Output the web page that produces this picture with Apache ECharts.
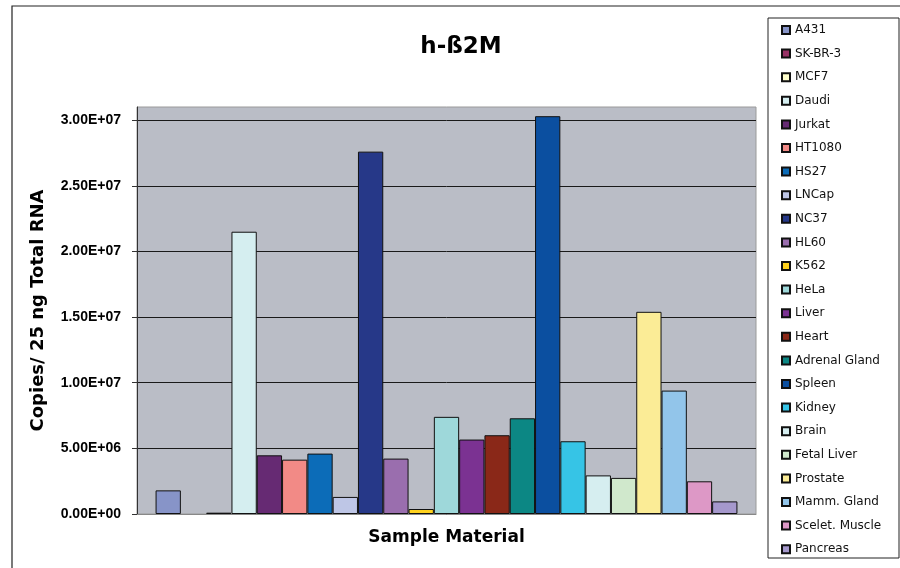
<!DOCTYPE html>
<html>
<head>
<meta charset="utf-8">
<title>h-ß2M</title>
<script src="https://cdn.jsdelivr.net/npm/echarts@6/dist/echarts.min.js"></script>
<style>
  html, body { margin: 0; padding: 0; background: #ffffff; }
  #chart { width: 900px; height: 568px; }
</style>
</head>
<body>
<div id="chart"></div>
<script>
// Sample materials (one bar each, all in a single category)
const sampleNames = [
  'A431', 'SK-BR-3', 'MCF7', 'Daudi', 'Jurkat', 'HT1080', 'HS27', 'LNCap',
  'NC37', 'HL60', 'K562', 'HeLa', 'Liver', 'Heart', 'Adrenal Gland', 'Spleen',
  'Kidney', 'Brain', 'Fetal Liver', 'Prostate', 'Mamm. Gland', 'Scelet. Muscle', 'Pancreas'
];

// Copies per 25 ng total RNA
const copyNumbers = [
  1.8e6, null, 1.0e5, 2.15e7, 4.47e6, 4.14e6, 4.6e6, 1.3e6,
  2.76e7, 4.22e6, 3.8e5, 7.4e6, 5.67e6, 6.0e6, 7.29e6, 3.03e7,
  5.54e6, 2.94e6, 2.75e6, 1.54e7, 9.4e6, 2.49e6, 9.6e5
];

// Value-axis tick positions
const yTickValues = [0, 5e6, 1e7, 1.5e7, 2e7, 2.5e7, 3e7];

const palette = [
  '#8794c8', '#993366', '#ffffcc', '#d5eef0', '#662a73', '#f28a86', '#0c6cb8', '#bec6e6',
  '#263888', '#9a6eae', '#ffd21e', '#9ed8da', '#7b3292', '#8a2818', '#0c8784', '#0b4fa0',
  '#36c4e6', '#d6eef0', '#d0e8cc', '#fbec96', '#92c5ea', '#dd98c6', '#a598cc'
];

// Format as 3.00E+07 style
function sciLabel(v) {
  if (v === 0) return '0.00E+00';
  const e = Math.floor(Math.log10(v) + 1e-9);
  const m = v / Math.pow(10, e);
  return m.toFixed(2) + 'E+' + String(e).padStart(2, '0');
}

const chart = echarts.init(document.getElementById('chart'), null, { renderer: 'canvas' });

const series = sampleNames.map((name, i) => ({
  name: name,
  type: 'bar',
  data: [copyNumbers[i]],
  barGap: '0%',
  barCategoryGap: '6%',
  itemStyle: { color: palette[i], borderColor: '#111111', borderWidth: 1 },
  emphasis: { disabled: true }
}));

chart.setOption({
  animation: false,
  backgroundColor: '#ffffff',
  title: {
    text: 'h-ß2M',
    left: 461,
    top: 36,
    padding: 0,
    textAlign: 'center',
    textStyle: { fontFamily: 'DejaVu Sans', fontWeight: 'bold', fontSize: 23, color: '#000000' }
  },
  graphic: [
    {
      type: 'rect',
      shape: { x: 12, y: 6, width: 1000, height: 1000 },
      style: { fill: 'none', stroke: '#222222', lineWidth: 1.2 },
      silent: true
    },
    {
      type: 'rect',
      shape: { x: 768, y: 18, width: 131, height: 540 },
      style: { fill: '#ffffff', stroke: '#222222', lineWidth: 1 },
      silent: true,
      z: 0
    }
  ],
  legend: {
    data: sampleNames,
    orient: 'vertical',
    left: 768,
    top: 18,
    padding: [6, 0, 0, 13],
    itemWidth: 8,
    itemHeight: 8,
    itemGap: 11.6,
    icon: 'rect',
    selectedMode: false,
    z: 5,
    textStyle: { fontFamily: 'DejaVu Sans', fontSize: 12, color: '#111111' }
  },
  grid: {
    left: 137,
    right: 144,
    top: 107,
    bottom: 54,
    show: true,
    backgroundColor: '#babdc6',
    borderColor: '#9a9a9a',
    borderWidth: 1
  },
  xAxis: {
    type: 'category',
    data: [''],
    name: 'Sample Material',
    nameLocation: 'middle',
    nameGap: 15,
    nameTextStyle: { fontFamily: 'DejaVu Sans', fontWeight: 'bold', fontSize: 17, color: '#000000', verticalAlign: 'top' },
    axisLine: { lineStyle: { color: '#888888', width: 1 } },
    axisTick: { show: false },
    axisLabel: { show: false },
    splitLine: { show: false }
  },
  yAxis: {
    type: 'value',
    min: 0,
    max: 3.1e7,
    interval: 5e6,
    name: 'Copies/ 25 ng Total RNA',
    nameLocation: 'middle',
    nameGap: 90,
    nameTextStyle: { fontFamily: 'DejaVu Sans', fontWeight: 'bold', fontSize: 18, color: '#000000' },
    axisLine: { show: true, lineStyle: { color: '#333333', width: 1 } },
    axisTick: { show: true, length: 5, inside: false, customValues: yTickValues, lineStyle: { color: '#333333' } },
    axisLabel: {
      customValues: yTickValues,
      margin: 16,
      formatter: v => sciLabel(v),
      fontFamily: 'Liberation Sans',
      fontWeight: 'bold',
      fontSize: 14,
      color: '#000000'
    },
    splitLine: { show: true, lineStyle: { color: '#1a1a1a', width: 1 } }
  },
  series: series
});
</script>
</body>
</html>
